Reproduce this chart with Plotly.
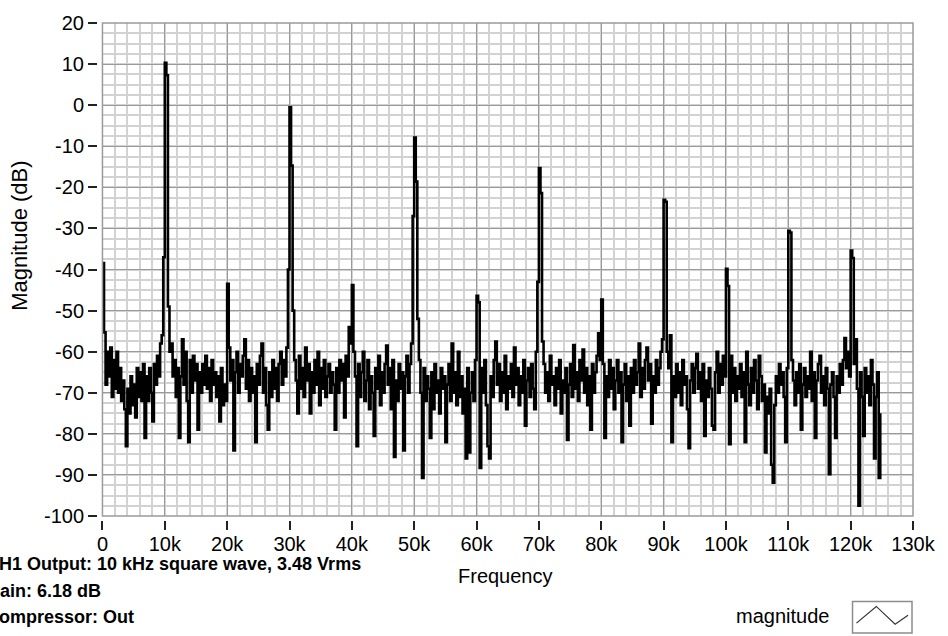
import numpy as np
import plotly.graph_objects as go

# Spectrum of the CH1 output, one magnitude value (dB) per 250 Hz bin, 0 .. 124.75 kHz
BIN_HZ = 250
mag_db = [
    # 0 - 9.75 kHz
    -38.4, -55.3, -68, -60, -66, -59, -71, -62, -69, -60,
    -70, -64, -72, -67, -74, -83, -69, -75, -66, -73,
    -68, -76, -64, -71, -65, -72, -63, -81, -66, -72,
    -64, -70, -77, -63, -68, -61, -66, -58, -56, -37,
    # 10 kHz fundamental
    10.3, 7.3, -49, -60, -58, -66, -62, -71, -64, -81,
    -66, -57, -68, -60, -72, -82, -62, -70, -61, -67,
    -63, -79, -65, -70, -63, -68, -61, -69, -64, -72,
    -62, -68, -65, -71, -66, -77, -64, -73, -68, -72,
    # 20 kHz
    -43.5, -59, -67, -62, -84, -65, -60, -70, -63, -66,
    -61, -57, -69, -62, -72, -64, -70, -66, -82, -63,
    -68, -61, -58, -70, -64, -73, -79, -65, -71, -62,
    -69, -64, -72, -63, -60, -68, -62, -66, -59, -40,
    # 30 kHz
    -0.5, -14.7, -50, -62, -67, -75, -61, -69, -64, -71,
    -59, -67, -63, -75, -65, -70, -62, -68, -60, -73,
    -64, -69, -62, -71, -66, -63, -70, -65, -68, -79,
    -64, -70, -62, -67, -63, -76, -61, -66, -54, -58,
    # 40 kHz
    -43.8, -60, -66, -83, -63, -71, -65, -60, -72, -67,
    -62, -74, -66, -70, -80.5, -64, -69, -61, -73, -65,
    -70, -63, -58.5, -68, -64, -74, -62, -85.6, -67, -72,
    -63, -69, -65, -84, -66, -61, -70, -63, -58, -27,
    # 50 kHz
    -7.9, -18.6, -52, -62, -70, -90.7, -64, -72, -66, -69,
    -81, -65, -74, -63, -70, -67, -75, -64, -69, -66,
    -82, -68, -63, -72, -58, -70, -65, -73, -60, -71,
    -66, -75, -69, -86, -64, -84.5, -70, -65, -72, -62,
    # 60 kHz
    -46.4, -48, -88.3, -64, -70, -62, -73, -83, -86, -66,
    -71, -62, -57.5, -68, -63, -72, -65, -70, -61, -74,
    -66, -69, -63, -71, -59, -68, -64, -73, -66, -70,
    -62, -78, -67, -64, -71, -63, -69, -74, -60, -43,
    # 70 kHz
    -15.3, -21.4, -57.5, -63, -70, -65, -72, -61, -68, -66,
    -73, -64, -69, -62, -75, -67, -70, -64, -81.5, -68,
    -63, -71, -58.4, -69, -65, -72, -62, -67, -59.5, -70,
    -64, -73, -66, -79, -63, -70, -65, -61, -55.5, -62,
    # 80 kHz
    -47.3, -63, -81, -66, -71, -62, -69, -64, -74, -67,
    -62, -70, -65, -82, -68, -63, -72, -66, -78, -64,
    -70, -62, -68, -65, -58, -71, -64, -69, -62, -59,
    -67, -63, -77.5, -66, -70, -62, -68, -64, -60, -57,
    # 90 kHz
    -23, -23.5, -60, -64, -56, -82, -66, -71, -63, -70,
    -65, -73, -62, -68, -66, -74, -83.5, -67, -63, -70,
    -64, -60.5, -69, -65, -72, -63, -80.5, -67, -71, -64,
    -69, -78, -79, -65, -60, -70, -63, -68, -61, -66,
    # 100 kHz
    -39.8, -44, -82.5, -61, -70, -64, -72, -66, -69, -63,
    -71, -65, -82, -60, -68, -73, -64, -70, -62, -67,
    -74, -61, -66, -72, -68, -84.5, -71, -75, -69, -87.5,
    -91.9, -73, -66, -70, -63, -68, -65, -71, -82, -64,
    # 110 kHz
    -30.6, -31, -62, -67, -73, -65, -70, -63, -79, -68,
    -64, -71, -66, -69, -60, -72, -65, -81, -67, -63,
    -61, -70, -66, -73, -64, -69, -89.8, -68, -65, -71,
    -81, -66, -70, -63, -68, -62, -56.7, -64, -60, -66,
    # 120 kHz
    -35.4, -37.2, -63, -57, -69, -97.5, -65, -71, -80.5, -64,
    -70, -66, -73, -62, -68, -86, -71, -65, -90.7, -75,
]
freq_hz = np.arange(len(mag_db)) * BIN_HZ

x_tick_vals = [0, 10000, 20000, 30000, 40000, 50000, 60000,
               70000, 80000, 90000, 100000, 110000, 120000, 130000]
x_tick_text = ["0", "10k", "20k", "30k", "40k", "50k", "60k",
               "70k", "80k", "90k", "100k", "110k", "120k", "130k"]
y_tick_vals = [20, 10, 0, -10, -20, -30, -40, -50, -60, -70, -80, -90, -100]
y_tick_text = ["20", "10", "0", "-10", "-20", "-30", "-40", "-50",
               "-60", "-70", "-80", "-90", "-100"]

info_lines = ["CH1 Output: 10 kHz square wave, 3.48 Vrms",
              "Gain: 6.18 dB",
              "Compressor: Out"]

# page geometry (pixels)
W, H = 948, 636
ML, MR, MT, MB = 97, 28, 14, 116
PW, PH = W - ML - MR, H - MT - MB
PLOT_LEFT, PLOT_BOTTOM = 102.5, 516


def px_x(px):
    return (px - ML) / PW


def px_y(py):
    return (H - MB - py) / PH


FONT = "Liberation Sans, Arial, sans-serif"
MAJOR = "#9a9a9a"
MINOR = "#d2d2d2"

fig = go.Figure()
fig.add_trace(go.Scatter(
    x=freq_hz, y=mag_db, mode="lines", name="magnitude",
    line=dict(color="black", width=2.6, shape="hv"),
    showlegend=False,
))

fig.update_layout(
    width=W, height=H,
    margin=dict(l=ML, r=MR, t=MT, b=MB),
    paper_bgcolor="white", plot_bgcolor="white",
    font=dict(family=FONT, size=20, color="black"),
    xaxis=dict(
        range=[0, 130000], domain=[px_x(PLOT_LEFT), 1],
        anchor="free", position=0,
        tickvals=x_tick_vals, ticktext=x_tick_text,
        ticks="outside", ticklen=9, tickwidth=1.5, tickcolor="#222",
        ticklabelstandoff=-3,
        showgrid=True, gridcolor=MAJOR, gridwidth=1.2,
        minor=dict(dtick=2000, showgrid=True, gridcolor=MINOR, gridwidth=1.5),
        showline=False, zeroline=False,
        tickfont=dict(family=FONT, size=20),
    ),
    yaxis=dict(
        range=[-100, 20], domain=[px_y(PLOT_BOTTOM), 1],
        anchor="free", position=0,
        tickvals=y_tick_vals, ticktext=y_tick_text,
        ticks="outside", ticklen=9, tickwidth=1.5, tickcolor="#222",
        showgrid=True, gridcolor=MAJOR, gridwidth=1.2,
        minor=dict(dtick=2.5, showgrid=True, gridcolor=MINOR, gridwidth=1.5),
        showline=False, zeroline=False,
        tickfont=dict(family=FONT, size=20),
    ),
)

# plot frame
fig.add_shape(type="rect", xref="x domain", yref="y domain",
              x0=0, x1=1, y0=0, y1=1, line=dict(color=MAJOR, width=1.5))

annotations = [
    dict(text="Frequency", x=px_x(509), y=px_y(577), xanchor="center",
         yanchor="middle", font=dict(size=20)),
    dict(text="Magnitude (dB)", x=px_x(18), y=px_y(231), textangle=-90,
         xanchor="center", yanchor="middle", font=dict(size=22)),
    dict(text="magnitude", x=px_x(837), y=px_y(618), xanchor="right",
         yanchor="middle", font=dict(size=20)),
]
for line_text, py in zip(info_lines, [565, 592, 619]):
    annotations.append(dict(
        text="<b>" + line_text + "</b>", x=px_x(-17), y=px_y(py),
        xanchor="left", yanchor="middle", font=dict(size=18)))
for a in annotations:
    a.update(xref="paper", yref="paper", showarrow=False)
fig.update_layout(annotations=annotations)

# legend swatch: framed box with a small line glyph
fig.add_shape(type="rect", xref="paper", yref="paper",
              x0=px_x(859), x1=px_x(919), y0=px_y(635), y1=px_y(603),
              line=dict(color="#8c8c8c", width=1.5), fillcolor="white")
glyph = [(863, 625), (883, 608), (902, 626), (915, 617)]
path = "M " + " L ".join(f"{px_x(a):.4f},{px_y(b):.4f}" for a, b in glyph)
fig.add_shape(type="path", xref="paper", yref="paper", path=path,
              line=dict(color="#333", width=1.2))

fig.write_html("out.html")
